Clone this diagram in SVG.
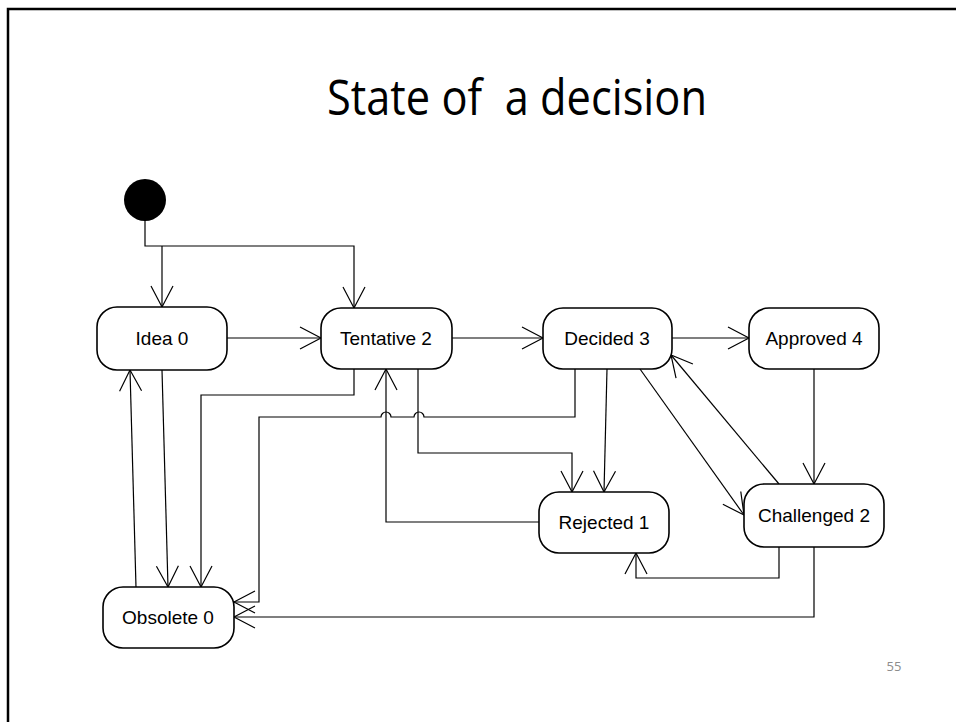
<svg xmlns="http://www.w3.org/2000/svg" width="956" height="722" viewBox="0 0 956 722">
  <style>
    .frame { fill: none; stroke: #000; stroke-width: 2.5; }
    .title { font-family: "Open Sans", "Liberation Sans", sans-serif; font-size: 50px; fill: #000; white-space: pre; }
    .page { font-family: "Open Sans", "Liberation Sans", sans-serif; font-size: 13px; fill: #8c8c8c; }
    .state rect { fill: #fff; stroke: #000; stroke-width: 1.6; }
    .state text { font-family: "Liberation Sans", Arial, sans-serif; font-size: 19px; fill: #000; text-anchor: middle; }
    .edge { fill: none; stroke: #000; stroke-width: 1.2; marker-end: url(#open); }
  </style>
  <defs>
    <marker id="open" markerUnits="userSpaceOnUse" markerWidth="24" markerHeight="26" viewBox="-22 -13 24 26" refX="0" refY="0" orient="auto" overflow="visible">
      <path d="M-21,-11 L0,0 L-21,11" fill="none" stroke="#000" stroke-width="1.2"/>
    </marker>
  </defs>

  <rect width="956" height="722" fill="#fff"/>
  <!-- slide frame (open on the right and bottom) -->
  <path class="frame" d="M8,730 V9 H970"/>

  <text class="title" x="327" y="115" textLength="380" lengthAdjust="spacingAndGlyphs" xml:space="preserve">State of  a decision</text>
  <text class="page" x="894" y="671" text-anchor="middle">55</text>

  <!-- transitions -->
  <g id="connectors">
    <!-- initial pseudo-state fan-out -->
    <path d="M145,221 V246 H162" fill="none" stroke="#000" stroke-width="1.2"/>
    <path class="edge" d="M162,246 V307"/>
    <path class="edge" d="M162,246 H354 V308"/>
    <!-- main line -->
    <path class="edge" d="M227,338 H321"/>
    <path class="edge" d="M452,338 H543"/>
    <path class="edge" d="M672,338 H749"/>
    <!-- approved / challenged -->
    <path class="edge" d="M814,369 V484"/>
    <path class="edge" d="M779,484 L671,355"/>
    <path class="edge" d="M640,369 L744,515"/>
    <!-- into rejected -->
    <path class="edge" d="M607,369 L604,492"/>
    <path class="edge" d="M418,369 V453 H572 V492"/>
    <path class="edge" d="M779,547 V578 H636 V553"/>
    <!-- rejected back to tentative -->
    <path class="edge" d="M539,522 H386 V369"/>
    <!-- into obsolete -->
    <path class="edge" d="M575,369 V417 H424 A5,5 0 0 0 414,417 H391 A5,5 0 0 0 381,417 H259 V602 H234"/>
    <path class="edge" d="M354,369 V395 H201 V587"/>
    <path class="edge" d="M162,370 L168,587"/>
    <path class="edge" d="M814,547 V617 H234"/>
    <!-- obsolete back to idea -->
    <path class="edge" d="M136,587 L130,370"/>
  </g>

  <!-- initial state -->
  <g id="initial">
    <circle cx="145" cy="200" r="21" fill="#000"/>
  </g>

  <g id="idea" class="state">
    <rect x="97" y="307" width="130" height="63" rx="20"/>
    <text x="162" y="345">Idea 0</text>
  </g>
  <g id="tentative" class="state">
    <rect x="321" y="308" width="131" height="61" rx="20"/>
    <text x="386" y="345">Tentative 2</text>
  </g>
  <g id="decided" class="state">
    <rect x="543" y="308" width="129" height="61" rx="20"/>
    <text x="607" y="345">Decided 3</text>
  </g>
  <g id="approved" class="state">
    <rect x="749" y="308" width="130" height="61" rx="20"/>
    <text x="814" y="345">Approved 4</text>
  </g>
  <g id="rejected" class="state">
    <rect x="539" y="492" width="130" height="61" rx="20"/>
    <text x="604" y="529">Rejected 1</text>
  </g>
  <g id="challenged" class="state">
    <rect x="744" y="484" width="140" height="63" rx="20"/>
    <text x="814" y="522">Challenged 2</text>
  </g>
  <g id="obsolete" class="state">
    <rect x="103" y="587" width="131" height="61" rx="20"/>
    <text x="168" y="624">Obsolete 0</text>
  </g>
</svg>
